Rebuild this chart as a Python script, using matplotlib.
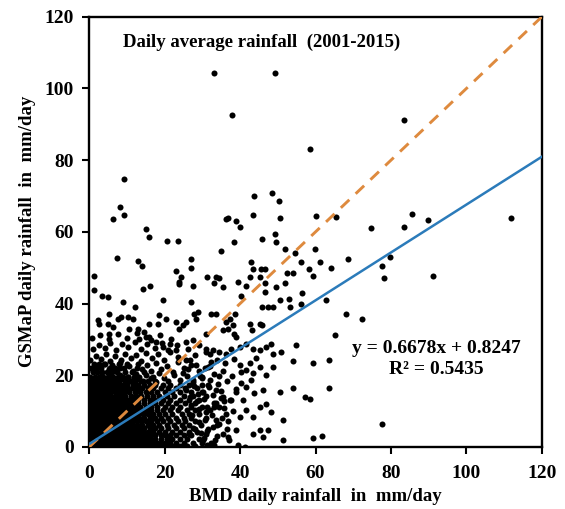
import numpy as np
import matplotlib
matplotlib.use("Agg")
import matplotlib.pyplot as plt

# Station pairs (BMD, GSMaP), mm/day
# dense core of the cloud, one list of x values per y band
core_rows = {
    0.3: [0.5, 1.5, 2.5, 3.5, 4.5, 5.5, 6.5, 7.5, 8.5, 9.5, 10.5, 11.5, 12.5, 13.5, 14.5, 15.5, 16.5, 17.5, 18.5, 19.5, 21, 22.5, 24, 26, 28],
    1.2: [0.3, 1, 2, 3, 4, 5, 6, 7, 8, 9, 10, 11, 12, 13, 14, 15, 16, 17, 18, 19, 20, 21.5, 23, 25, 27.5, 30],
    2.2: [0.5, 1.5, 2.5, 3.5, 4.5, 5.5, 6.5, 7.5, 8.5, 9.5, 10.5, 11.5, 12.5, 13.5, 14.5, 15.5, 16.5, 17.5, 19, 20.5, 22, 24, 26, 29],
    3.2: [0.2, 1, 2, 3, 4, 5, 6, 7, 8, 9, 10, 11, 12, 13, 14, 15, 16, 17.5, 19, 20, 21.5, 23, 25, 27],
    4.2: [0.6, 1.6, 2.6, 3.6, 4.6, 5.6, 6.6, 7.6, 8.6, 9.6, 10.6, 11.6, 12.6, 13.6, 14.6, 15.6, 17, 18.5, 20, 22, 24, 26.5, 28.5],
    5.2: [0.3, 1.3, 2.3, 3.3, 4.3, 5.3, 6.3, 7.3, 8.3, 9.3, 10.3, 11.3, 12.3, 13.3, 14.5, 16, 17.5, 19, 21, 23, 25, 27.5],
    6.2: [0.7, 1.7, 2.7, 3.7, 4.7, 5.7, 6.7, 7.7, 8.7, 9.7, 10.7, 11.7, 12.7, 14, 15.5, 17, 18.5, 20.5, 22.5, 24.5, 26.5, 29.5],
    7.2: [0.4, 1.4, 2.4, 3.4, 4.4, 5.4, 6.4, 7.4, 8.4, 9.4, 10.4, 11.4, 12.6, 13.8, 15, 16.5, 18, 19.5, 21.5, 23.5, 25.5, 28],
    8.2: [0.8, 1.8, 2.8, 3.8, 4.8, 5.8, 6.8, 7.8, 8.8, 9.8, 10.8, 12, 13.2, 14.5, 16, 17.5, 19, 21, 23, 25, 27, 31],
    9.2: [0.3, 1.3, 2.3, 3.3, 4.3, 5.3, 6.3, 7.3, 8.3, 9.3, 10.5, 11.7, 13, 14.2, 15.5, 17, 18.5, 20, 22, 24.5, 26.5, 29],
    10.2: [0.7, 1.7, 2.7, 3.7, 4.7, 5.7, 6.7, 7.7, 8.7, 10, 11.2, 12.5, 13.8, 15, 16.5, 18, 19.5, 21.5, 23.5, 26, 28, 32],
    11.2: [0.4, 1.4, 2.4, 3.4, 4.4, 5.4, 6.4, 7.4, 8.6, 9.8, 11, 12.2, 13.5, 15, 16.5, 18, 20, 22, 24, 27, 30],
    12.2: [0.8, 1.8, 2.8, 3.8, 4.8, 5.8, 6.8, 8, 9.2, 10.5, 11.8, 13, 14.5, 16, 17.5, 19, 21, 23, 25.5, 28, 33],
    13.2: [0.3, 1.3, 2.3, 3.3, 4.3, 5.3, 6.5, 7.7, 9, 10.3, 11.5, 13, 14.5, 16, 17.5, 19.5, 21.5, 24, 26.5, 29],
    14.2: [0.7, 1.7, 2.7, 3.7, 4.7, 5.8, 7, 8.3, 9.6, 11, 12.4, 13.8, 15.3, 17, 18.5, 20.5, 22.5, 25, 27.5, 31],
    15.2: [0.4, 1.4, 2.4, 3.4, 4.5, 5.6, 6.8, 8, 9.3, 10.6, 12, 13.5, 15, 16.5, 18, 20, 22, 24, 27, 30],
    16.3: [0.8, 1.8, 2.8, 4, 5.2, 6.4, 7.6, 8.8, 10, 11.3, 12.7, 14, 15.5, 17, 19, 21, 23, 25.5, 28.5],
    17.4: [0.3, 1.3, 2.5, 3.7, 5, 6.2, 7.4, 8.7, 10, 11.5, 13, 14.5, 16, 17.5, 19.5, 21.5, 24, 26.5, 30],
    18.5: [0.8, 1.9, 3.0, 4.2, 5.5, 6.7, 8.0, 9.4, 10.7, 12.2, 13.8, 15.6, 17.4],
    19.6: [0.3, 1.4, 2.6, 3.7, 4.9, 6.2, 7.5, 8.9, 10.2, 11.8, 13.2, 16.8],
    20.8: [0.9, 2.1, 3.3, 4.6, 6.0, 7.3, 9.6, 11.2, 14.4],
    22.0: [0.4, 1.7, 3.0, 5.4, 6.8, 8.2, 12.6],
    23.2: [1.2, 2.6, 4.3, 7.8, 10.1],
}

# upper part of the cloud and the scattered points around it
bmd_pts = [
    0.4, 1.5, 2.6, 3.4, 4.5, 5.3, 6.4, 7.2, 8.1, 9.0, 10.2, 11.1, 12.3, 13.0, 14.2, 15.1, 16.4, 17.6, 18.5, 19.7, 21.0, 22.4, 24.0, 25.8, 27.5, 29.8, 32.0, 34.5,
    0.9, 2.0, 3.1, 4.0, 5.1, 6.0, 7.0, 8.2, 9.3, 10.5, 11.6, 12.8, 13.9, 15.2, 16.3, 17.8, 19.0, 20.6, 22.1, 23.5, 25.0, 27.0, 29.2, 31.5,
    0.3, 1.7, 3.0, 4.4, 5.6, 6.9, 8.3, 9.6, 11.0, 12.4, 13.7, 15.0, 16.6, 18.2, 19.8, 21.5, 23.4, 25.6, 28.0,
    1.1, 2.6, 4.1, 5.5, 7.1, 8.8, 10.3, 12.0, 13.6, 15.4, 17.3, 19.2, 21.0, 23.3, 26.2,
    0.6, 2.9, 5.2, 7.6, 9.9, 12.6, 15.8, 18.8, 21.8,
    30.5, 32.2, 33.8, 31.6, 34.0, 30.8, 32.6, 35.2, 31.2, 33.5, 35.8, 30.4, 32.8, 35.0, 37.2, 31.8, 34.2, 36.5, 38.8,
    33.0, 35.5, 37.8, 40.2, 36.0, 38.5, 34.0, 32.0, 36.6, 38.0, 37.0,
    26.4, 28.1, 29.6, 27.2, 29.0, 30.9, 26.8, 28.6, 30.2, 27.6, 29.4, 31.4, 33.6, 26.2, 28.3, 30.6, 32.4, 34.8, 36.9,
    27.0, 29.1, 31.3, 33.4, 35.6, 25.6, 27.8, 30.0, 32.1, 34.3, 24.9, 26.7, 28.9, 31.0, 33.1,
    31.3, 33.5, 34.5, 33.2, 35.4, 23.9, 24.4, 23.7, 27.5, 39.4, 41.6, 42.5, 45.2, 46.5, 45.6, 43.4, 46.5, 49.6, 52.3, 54.0,
    51.8, 50.5, 53.0, 53.1, 56.5, 56.1, 46.5, 45.9, 47.4, 48.7, 45.9, 45.2, 42.5, 43.2, 40.3, 38.6, 37.2, 38.1, 38.5, 39.0,
    36.8, 36.3, 35.4, 33.7, 32.3, 31.0, 28.8, 27.9, 28.3, 27.0, 25.7, 24.8, 23.9, 23.0, 20.4, 18.6, 18.2, 15.9, 14.6, 15.1,
    12.8, 11.5, 10.2, 8.4, 7.5, 4.9, 2.2, 2.7, 5.1, 6.2, 10.6, 13.3, 16.4, 17.7, 19.5, 21.3, 23.0, 25.7, 27.5, 29.2,
    31.0, 32.8, 34.5, 36.3, 37.6, 39.9, 41.6, 43.4, 45.2, 46.9, 48.3, 48.7, 44.3, 42.5, 39.9, 41.6, 43.4, 45.2, 46.9, 48.7,
    40.3, 41.6, 43.0, 39.0, 40.7, 37.6, 35.4, 34.5, 36.3, 33.7, 32.8, 31.0, 30.1, 35.4, 36.8, 39.0, 39.9, 41.6, 43.8, 46.1,
    45.2, 43.4,
    33.2, 49.2, 37.9, 83.5, 58.5, 9.3, 8.1, 9.3, 6.4, 43.8, 48.4, 50.3, 43.3, 36.3, 36.9, 39.0, 39.9, 50.7, 60.1, 65.4,
    74.6, 83.5, 85.7, 89.7, 111.9, 15.1, 15.9, 20.5, 23.4, 38.3, 45.8, 49.2, 49.6, 52.0, 59.8, 35.0, 54.5, 7.4, 13.0, 14.0,
    27.1, 27.1, 23.0, 42.8, 61.1, 56.2, 68.6, 79.7, 77.5, 64.0, 58.3, 59.4, 78.1, 91.2, 1.2, 1.3, 14.2, 16.2, 19.5, 9.0,
    12.0, 3.5, 5.0, 5.3, 62.9, 68.0, 72.4, 65.1, 54.9, 50.9, 59.3, 63.6, 53.9, 63.6, 54.0, 50.7, 57.1, 58.5, 77.5, 59.3,
    61.8, 51.5, 51.4, 48.1, 46.9, 45.2, 43.4, 47.4, 46.1, 39.4, 41.2, 31.2, 33.0,
]
gsmap_pts = [
    18.3, 19.1, 18.0, 19.8, 18.6, 20.3, 19.0, 18.2, 20.0, 18.9, 19.6, 18.4, 20.4, 19.0, 18.3, 20.1, 19.2, 18.1, 20.6, 19.3, 18.4, 20.0, 18.8, 19.7, 18.2, 19.4, 18.6, 19.9,
    21.2, 22.4, 21.0, 23.1, 21.6, 22.8, 21.3, 23.4, 21.9, 22.7, 21.1, 23.0, 21.8, 22.9, 21.2, 23.3, 21.7, 22.5, 21.0, 23.6, 21.9, 22.8, 21.3, 22.2,
    24.2, 25.3, 24.6, 25.9, 24.0, 25.5, 24.3, 26.0, 24.8, 25.7, 24.1, 26.2, 24.9, 25.8, 24.3, 26.4, 25.0, 24.2, 25.6,
    27.2, 28.4, 27.5, 29.0, 27.0, 28.6, 27.8, 29.3, 27.3, 28.8, 27.6, 29.0, 27.1, 28.3, 27.4,
    30.5, 31.2, 30.1, 31.5, 30.4, 31.8, 30.6, 31.3, 30.2,
    2.5, 1.0, 3.0, 5.0, 6.0, 7.6, 9.0, 8.2, 11.0, 12.2, 10.8, 13.5, 14.6, 15.5, 13.2, 16.8, 17.6, 18.4, 16.2,
    20.4, 21.2, 19.8, 20.8, 23.5, 24.6, 24.2, 26.0, 5.0, 10.0, 2.0,
    3.6, 4.9, 3.9, 8.8, 10.6, 9.7, 13.9, 12.8, 15.2, 18.6, 19.9, 17.2, 16.0, 21.6, 22.8, 21.9, 23.7, 13.6, 7.1,
    11.8, 6.9, 4.4, 1.8, 12.9, 15.9, 17.0, 19.3, 22.5, 6.4, 20.5, 24.3, 14.8, 26.4, 11.0,
    47.4, 47.4, 47.1, 45.6, 44.7, 46.0, 47.4, 45.4, 44.8, 46.0, 44.9, 47.4, 47.4, 49.5, 49.7, 49.5, 45.8, 44.7, 48.4, 48.4,
    45.6, 41.1, 41.3, 38.9, 43.0, 39.8, 43.1, 39.1, 39.1, 38.9, 34.0, 34.2, 34.2, 32.6, 42.0, 37.2, 35.8, 34.0, 31.6, 30.7,
    33.0, 34.9, 32.6, 37.2, 37.2, 31.6, 37.7, 37.2, 35.8, 40.5, 34.9, 34.0, 33.0, 34.9, 35.8, 36.7, 34.2, 34.2, 32.1, 30.7,
    33.0, 35.8, 36.3, 36.3, 35.8, 34.4, 35.3, 34.4, 31.6, 33.5, 33.0, 30.2, 29.8, 29.3, 27.9, 28.8, 27.0, 29.3, 29.8, 28.4,
    27.4, 27.0, 26.5, 26.0, 27.4, 27.9, 28.8, 27.4, 27.0, 27.9, 28.8, 26.0, 24.7, 23.3, 22.8, 21.4, 20.5, 22.3, 20.0, 22.3,
    17.7, 16.7, 18.6, 15.3, 13.0, 13.0, 14.0, 11.2, 9.3, 7.4, 5.6, 3.7, 1.9, 3.7, 2.8, 4.7, 8.4, 10.2, 14.9, 15.8,
    11.2, 8.4,
    104.4, 104.4, 92.5, 91.3, 83.1, 74.8, 66.9, 64.7, 63.6, 70.1, 70.9, 68.7, 64.7, 63.6, 63.9, 63.0, 61.4, 63.9, 64.3, 64.1,
    61.0, 61.4, 65.0, 63.2, 63.9, 60.7, 58.5, 57.5, 57.5, 57.1, 57.9, 59.5, 57.1, 55.3, 55.3, 54.7, 54.0, 52.6, 51.8, 50.5,
    52.5, 50.0, 49.2, 51.6, 51.6, 51.5, 52.5, 53.1, 50.6, 49.9, 49.6, 47.7, 47.1, 47.7, 47.8, 43.8, 44.1, 44.8, 40.9, 40.5,
    39.1, 42.0, 41.7, 37.2, 40.9, 37.0, 35.8, 31.2, 28.3, 26.5, 23.3, 24.2, 23.9, 16.4, 16.4, 15.3, 14.0, 13.5, 6.3, 2.6,
    3.0, 1.9, 7.6, 9.6, 11.9, 4.7, 3.7, 4.7, 2.8, 0.5, 0.0, 0.4, 0.6,
]

slope, intercept = 0.6678, 0.8247
r2 = 0.5435
axis_ticks = [0, 20, 40, 60, 80, 100, 120]

bmd = list(bmd_pts)
gsmap = list(gsmap_pts)
for yv, xs in core_rows.items():
    bmd += xs
    gsmap += [yv] * len(xs)

plt.rcParams['font.family'] = ['Liberation Serif', 'DejaVu Serif']
plt.rcParams['font.weight'] = 'bold'

fig = plt.figure(figsize=(5.65, 5.09), dpi=100)
ax = fig.add_axes([0.158, 0.122, 0.801, 0.845])

ax.scatter(bmd, gsmap, s=19, c='black', linewidths=0, zorder=2)

line_x = np.array([0, 120])
ax.plot(line_x, line_x, ls=(0, (4, 3)), color='#DE8A3E', lw=2.1, zorder=3)
ax.plot(line_x, slope * line_x + intercept, color='#2B7BBA', lw=1.8, zorder=3)

ax.set_xlim(0, 120)
ax.set_ylim(0, 120)
ax.set_xticks(axis_ticks)
ax.set_yticks(axis_ticks)
ax.tick_params(direction='out', length=5, width=1.5, labelsize=14)
ax.tick_params(axis='x', pad=8)
ax.tick_params(axis='y', pad=6)
for lab in ax.get_xticklabels() + ax.get_yticklabels():
    lab.set_fontweight('bold')
for sp in ax.spines.values():
    sp.set_linewidth(1.7)

ax.set_xlabel('BMD daily rainfall  in  mm/day', fontsize=13.5, fontweight='bold', labelpad=4)
ax.set_ylabel('GSMaP daily rainfall  in  mm/day', fontsize=13.5, fontweight='bold', labelpad=6)

ax.text(9, 113, 'Daily average rainfall  (2001-2015)', fontsize=13.5, fontweight='bold', va='center')
ax.text(92, 27.5, 'y = %.4fx + %.4f' % (slope, intercept), fontsize=14, fontweight='bold',
        ha='center', va='center')
ax.text(92, 21.5, 'R² = %.4f' % r2, fontsize=14, fontweight='bold', ha='center', va='center')

fig.savefig('out.png', dpi=100)
